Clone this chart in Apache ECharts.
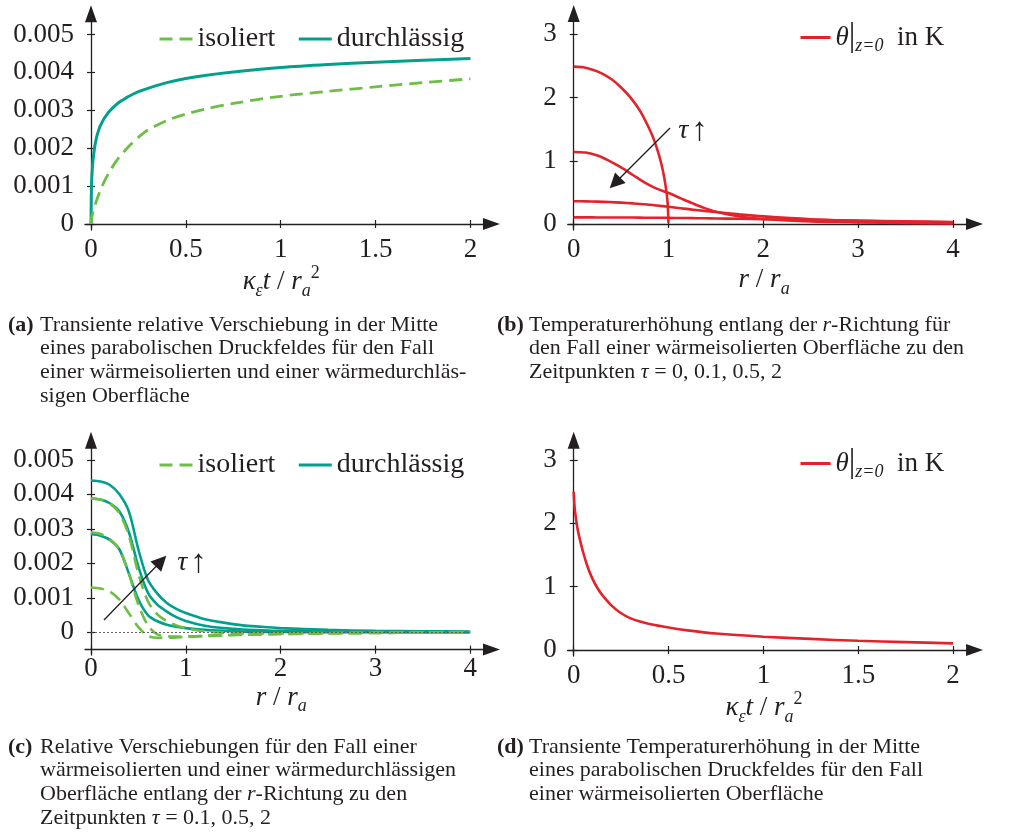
<!DOCTYPE html>
<html><head><meta charset="utf-8">
<script src="https://cdn.jsdelivr.net/npm/echarts@6/dist/echarts.min.js"></script>
<style>html,body{margin:0;padding:0;background:#fff}#c{width:1015px;height:837px}</style>
</head><body><div id="c"></div>
<script>
// ---------- data ----------
// (a) transient relative displacement at centre
const tA_durch = [0, 0.002, 0.005, 0.01, 0.02, 0.03, 0.04, 0.05, 0.06, 0.07, 0.08, 0.09, 0.1, 0.12, 0.14, 0.16, 0.18, 0.2, 0.25, 0.3, 0.4, 0.5, 0.6, 0.75, 1.0, 1.25, 1.5, 1.75, 2.0];
const dispA_durch = [0, 0.0009, 0.0013, 0.00165, 0.00205, 0.0023, 0.00247, 0.0026, 0.0027, 0.00279, 0.00286, 0.00293, 0.00299, 0.00309, 0.00318, 0.00325, 0.00331, 0.00337, 0.00349, 0.00358, 0.00373, 0.00384, 0.00392, 0.00401, 0.00413, 0.00421, 0.00427, 0.00432, 0.00437];
const tA_iso = [0, 0.002, 0.005, 0.01, 0.02, 0.035, 0.05, 0.075, 0.1, 0.125, 0.15, 0.2, 0.25, 0.3, 0.4, 0.5, 0.6, 0.75, 1.0, 1.25, 1.5, 1.75, 2.0];
const dispA_iso = [0, 0.00013, 0.0002, 0.0003, 0.00048, 0.0007, 0.0009, 0.00117, 0.0014, 0.0016, 0.00177, 0.00205, 0.00229, 0.00248, 0.00273, 0.0029, 0.00303, 0.00318, 0.00337, 0.0035, 0.00362, 0.00373, 0.00383];
// (b) temperature along r
const rB0 = [0, 0.1, 0.2, 0.3, 0.4, 0.5, 0.6, 0.7, 0.8, 0.85, 0.9, 0.94, 0.97, 0.99, 1.0];
const thetaB_tau0 = [2.49, 2.48, 2.44, 2.38, 2.29, 2.16, 2.0, 1.79, 1.5, 1.32, 1.09, 0.85, 0.6, 0.35, 0.02];
const rB = [0, 0.125, 0.25, 0.375, 0.5, 0.625, 0.75, 0.875, 1.0, 1.125, 1.25, 1.375, 1.5, 1.75, 2.0, 2.5, 3.0, 3.5, 4.0];
const thetaB_tau01 = [1.14, 1.13, 1.085, 1.0, 0.895, 0.775, 0.655, 0.56, 0.49, 0.41, 0.33, 0.255, 0.195, 0.12, 0.08, 0.04, 0.025, 0.015, 0.01];
const thetaB_tau05 = [0.36, 0.358, 0.354, 0.347, 0.338, 0.326, 0.312, 0.293, 0.272, 0.25, 0.228, 0.208, 0.19, 0.152, 0.12, 0.075, 0.05, 0.035, 0.025];
const thetaB_tau2 = [0.105, 0.105, 0.104, 0.104, 0.103, 0.102, 0.1, 0.099, 0.097, 0.095, 0.093, 0.09, 0.088, 0.082, 0.076, 0.065, 0.053, 0.042, 0.032];
// (c) displacements along r
const rC = [0, 0.1, 0.2, 0.3, 0.4, 0.5, 0.6, 0.7, 0.8, 0.9, 1.0, 1.2, 1.4, 1.6, 1.8, 2.0, 2.5, 3.0, 3.5, 4.0];
const dispC_durch_tau01 = [0.00284, 0.0028, 0.00268, 0.0024, 0.0017, 0.00095, 0.0005, 0.00032, 0.00022, 0.00016, 0.00012, 0.00007, 0.00004, 0.00002, 0.00001, 0.00001, 0, 0, 0, 0];
const dispC_durch_tau05 = [0.00388, 0.00385, 0.00374, 0.0035, 0.0029, 0.0019, 0.00115, 0.0008, 0.0006, 0.00044, 0.00033, 0.00019, 0.00012, 0.00008, 0.00006, 0.00004, 0.00002, 0.00001, 0.000005, 0];
const dispC_durch_tau2 = [0.0044, 0.00437, 0.00427, 0.004, 0.0035, 0.0024, 0.00152, 0.00112, 0.00085, 0.00068, 0.00056, 0.00038, 0.00028, 0.0002, 0.00016, 0.00012, 0.00007, 0.00004, 0.00003, 0.00002];
const dispC_iso_tau01 = [0.0013, 0.00127, 0.00118, 0.00095, 0.00055, 0.00015, -0.0001, -0.00016, -0.00016, -0.00015, -0.00014, -0.00011, -0.00009, -0.00007, -0.00006, -0.00005, -0.00003, -0.00002, -0.00001, 0];
const dispC_iso_tau05 = [0.0029, 0.00285, 0.0027, 0.0024, 0.0017, 0.0008, 0.0002, -0.00006, -0.00011, -0.00012, -0.00012, -0.0001, -0.00008, -0.00007, -0.00006, -0.00005, -0.00003, -0.00002, -0.00001, 0];
const dispC_iso_tau2 = [0.00388, 0.00385, 0.00373, 0.00345, 0.0028, 0.0017, 0.0009, 0.00052, 0.00032, 0.0002, 0.00012, 0.00003, -0.00001, -0.00003, -0.00003, -0.00003, -0.00002, -0.00001, 0, 0];
// (d) transient temperature at centre
const tD = [0, 0.005, 0.01, 0.02, 0.03, 0.05, 0.075, 0.1, 0.125, 0.15, 0.2, 0.25, 0.3, 0.35, 0.4, 0.5, 0.6, 0.75, 1.0, 1.25, 1.5, 1.75, 2.0];
const thetaD = [2.5, 2.25, 2.12, 1.92, 1.78, 1.54, 1.3, 1.12, 0.98, 0.87, 0.7, 0.58, 0.5, 0.45, 0.41, 0.355, 0.31, 0.26, 0.21, 0.175, 0.145, 0.125, 0.105];
// ticks
const ticksDisp = [0, 0.001, 0.002, 0.003, 0.004, 0.005];
const ticksTime = [0, 0.5, 1, 1.5, 2];
const ticksR = [0, 1, 2, 3, 4];
const ticksTheta = [0, 1, 2, 3];
// annotation arrows (data space): [start, arrow-head centre], label position
const annB = {from: [1.016, 1.52], to: [0.436, 0.649], label: [1.258, 1.47]};
const annC = {from: [0.137, 0.000357], to: [0.739, 0.00206], label: [1.065, 0.00201]};
const legendNames = ['isoliert', 'durchlässig'];
const thetaName = 'θ';
const captions = {
  a: ['Transiente relative Verschiebung in der Mitte', 'eines parabolischen Druckfeldes für den Fall', 'einer wärmeisolierten und einer wärmedurchläs-', 'sigen Oberfläche'],
  b: ['Temperaturerhöhung entlang der {it|r}-Richtung für', 'den Fall einer wärmeisolierten Oberfläche zu den', 'Zeitpunkten {it|τ} = 0, 0.1, 0.5, 2'],
  c: ['Relative Verschiebungen für den Fall einer', 'wärmeisolierten und einer wärmedurchlässigen', 'Oberfläche entlang der {it|r}-Richtung zu den', 'Zeitpunkten {it|τ} = 0.1, 0.5, 2'],
  d: ['Transiente Temperaturerhöhung in der Mitte', 'eines parabolischen Druckfeldes für den Fall', 'einer wärmeisolierten Oberfläche']
};

// ---------- styling ----------
const AX = '#231f20';
const TEAL = '#00a08c';
const GREEN = '#6dbe45';
const RED = '#e3232b';
const FONT = "'Liberation Serif', 'DejaVu Serif', serif";
const zip = (xs, ys) => xs.map((x, i) => [x, ys[i]]);

const grids = [], xAxes = [], yAxes = [], series = [], legends = [], titles = [];

const nameRich = {
  i: {fontFamily: FONT, fontSize: 27, fontStyle: 'italic', color: AX, lineHeight: 36},
  n: {fontFamily: FONT, fontSize: 27, color: AX, lineHeight: 36},
  sub: {fontFamily: FONT, fontSize: 18, fontStyle: 'italic', color: AX, lineHeight: 22, verticalAlign: 'bottom'},
  sup: {fontFamily: FONT, fontSize: 18, color: AX, lineHeight: 24, verticalAlign: 'top'},
  bar: {fontFamily: FONT, fontSize: 33, color: AX, lineHeight: 36}
};
const NAME_T = '{i|κ}{sub|ε}{i|t}{n| / }{i|r}{sub|a}{sup|2}';
const NAME_R = '{i|r}{n| / }{i|r}{sub|a}';

function panel(p) {
  const gi = grids.length, xi = xAxes.length, yi = yAxes.length;
  grids.push({left: p.x0 + p.xmin * p.sx, top: p.y0 - p.ymax * p.sy,
    width: (p.xmax - p.xmin) * p.sx, height: (p.ymax - p.ymin) * p.sy, outerBoundsMode: 'none'});
  const tickStyle = {color: AX, width: 1.2};
  const base = {type: 'value', gridIndex: gi, splitLine: {show: false}};
  const xLine = {onZero: p.xOnZero, onZeroAxisIndex: yi};
  xAxes.push(Object.assign({}, base, {
    position: 'bottom', min: p.xmin, max: p.xmax, offset: p.xOffset || 0,
    axisLine: Object.assign({show: true, symbol: ['none', 'triangle'], symbolSize: [12, 17], lineStyle: {color: AX, width: 1.3}}, xLine),
    axisTick: {show: true, customValues: p.xticks, length: 4, lineStyle: tickStyle},
    axisLabel: {show: true, customValues: p.xticks, formatter: p.xfmt, margin: 6, fontFamily: FONT, fontSize: 27, color: AX},
    name: p.xname, nameLocation: 'middle', nameGap: p.nameGap,
    nameTextStyle: {rich: nameRich, padding: [0, 14, 0, 0]}
  }));
  xAxes.push(Object.assign({}, base, {
    position: 'bottom', min: p.xmin, max: p.xmax, offset: p.xOffset || 0,
    axisLine: Object.assign({show: false}, xLine),
    axisTick: {show: true, inside: true, customValues: p.xticks, length: 4, lineStyle: tickStyle},
    axisLabel: {show: false}
  }));
  const yLine = {onZero: true, onZeroAxisIndex: xi};
  yAxes.push(Object.assign({}, base, {
    position: 'left', min: p.ymin, max: p.ymax,
    axisLine: Object.assign({show: true, symbol: ['none', 'triangle'], symbolSize: [12, 17], lineStyle: {color: AX, width: 1.3}}, yLine),
    axisTick: {show: true, customValues: p.yticks, length: 4, lineStyle: tickStyle},
    axisLabel: {show: true, customValues: p.yticks, formatter: p.yfmt, margin: 11, fontFamily: FONT, fontSize: 27, color: AX}
  }));
  yAxes.push(Object.assign({}, base, {
    position: 'left', min: p.ymin, max: p.ymax,
    axisLine: Object.assign({show: false}, yLine),
    axisTick: {show: true, inside: true, customValues: p.yticks, length: 4, lineStyle: tickStyle},
    axisLabel: {show: false}
  }));
  return {xi, yi};
}

function line(ax, name, data, color, width, dashed, extra) {
  const s = {type: 'line', name, xAxisIndex: ax.xi, yAxisIndex: ax.yi, data,
    symbol: 'none', showSymbol: false, smooth: 0.3, silent: true,
    lineStyle: {color, width, type: dashed ? [13, 7] : 'solid', cap: 'butt'},
    itemStyle: {color}, emphasis: {disabled: true}};
  return Object.assign(s, extra || {});
}

function annotation(ann) {
  return {
    markLine: {silent: true, symbol: ['none', 'triangle'], symbolSize: 15,
      lineStyle: {color: AX, width: 1.3, type: 'solid'}, itemStyle: {color: AX},
      label: {show: false}, emphasis: {disabled: true},
      data: [[{coord: ann.from}, {coord: ann.to}]]},
    markPoint: {silent: true, symbol: 'circle', symbolSize: 0,
      label: {show: true, position: 'inside', formatter: '{i|τ} {n|↑}', rich: {
        i: {fontFamily: FONT, fontSize: 28, fontStyle: 'italic', color: AX},
        n: {fontFamily: FONT, fontSize: 33, color: AX}}},
      data: [{coord: ann.label}]}
  };
}

const fmtDisp = v => (v === 0 ? '0' : v.toFixed(3));
const fmtNum = v => String(v);

// panel a
const A = panel({x0: 91, y0: 224, sx: 189.7, sy: 37900, xmin: -0.032, xmax: 2.111, ymin: -0.00016, ymax: 0.00555,
  xOnZero: true, xticks: ticksTime, yticks: ticksDisp, xfmt: fmtNum, yfmt: fmtDisp, xname: NAME_T, nameGap: 29});
series.push(line(A, legendNames[1], zip(tA_durch, dispA_durch), TEAL, 3, false, {smooth: 0.25}));
series.push(line(A, legendNames[0], zip(tA_iso, dispA_iso), GREEN, 2.8, true));

// panel b
const B = panel({x0: 573.7, y0: 224, sx: 94.8, sy: 63.2, xmin: -0.063, xmax: 4.228, ymin: -0.095, ymax: 3.33,
  xOnZero: true, xticks: ticksR, yticks: ticksTheta, xfmt: fmtNum, yfmt: fmtNum, xname: NAME_R, nameGap: 32});
series.push(line(B, thetaName, zip(rB0, thetaB_tau0), RED, 2.6, false, {smooth: 0.2}));
series.push(line(B, thetaName, zip(rB, thetaB_tau01), RED, 2.6, false));
series.push(line(B, thetaName, zip(rB, thetaB_tau05), RED, 2.6, false));
series.push(line(B, thetaName, zip(rB, thetaB_tau2), RED, 2.6, false, annotation(annB)));

// panel c
const C = panel({x0: 91, y0: 632.3, sx: 94.8, sy: 34500, xmin: -0.063, xmax: 4.225, ymin: -0.00066, ymax: 0.00557,
  xOnZero: false, xOffset: -5.5, xticks: ticksR, yticks: ticksDisp, xfmt: fmtNum, yfmt: fmtDisp, xname: NAME_R, nameGap: 30});
series.push(line(C, legendNames[1], zip(rC, dispC_durch_tau01), TEAL, 2.6, false, {
  markLine: {silent: true, symbol: 'none', label: {show: false}, emphasis: {disabled: true},
    lineStyle: {color: '#555', width: 0.9, type: [2, 2]}, data: [[{coord: [0, 0]}, {coord: [4, 0]}]]}}));
series.push(line(C, legendNames[1], zip(rC, dispC_durch_tau05), TEAL, 2.6, false));
series.push(line(C, legendNames[1], zip(rC, dispC_durch_tau2), TEAL, 2.6, false));
series.push(line(C, legendNames[0], zip(rC, dispC_iso_tau01), GREEN, 2.6, true));
series.push(line(C, legendNames[0], zip(rC, dispC_iso_tau05), GREEN, 2.6, true));
series.push(line(C, legendNames[0], zip(rC, dispC_iso_tau2), GREEN, 2.6, true, annotation(annC)));

// panel d
const D = panel({x0: 573.7, y0: 650, sx: 189.7, sy: 63.3, xmin: -0.032, xmax: 2.113, ymin: -0.095, ymax: 3.314,
  xOnZero: true, xticks: ticksTime, yticks: ticksTheta, xfmt: fmtNum, yfmt: fmtNum, xname: NAME_T, nameGap: 29});
series.push(line(D, thetaName, zip(tD, thetaD), RED, 2.6, false));

// legends
const legText = {fontFamily: FONT, fontSize: 28, color: AX};
const noSymbol = {opacity: 0, borderWidth: 0};
[[153, 20], [153, 446]].forEach(([l, t]) => legends.push({
  left: l, top: t, orient: 'horizontal', itemWidth: 33, itemHeight: 14, itemGap: 22,
  itemStyle: noSymbol, lineStyle: {width: 3},
  data: legendNames, textStyle: legText, selectedMode: false}));
[[794, 16], [794, 442]].forEach(([l, t]) => legends.push({
  left: l, top: t, orient: 'horizontal', itemWidth: 30, itemHeight: 14,
  itemStyle: noSymbol, lineStyle: {width: 3},
  data: [thetaName], selectedMode: false,
  formatter: () => '{i|θ}{bar||}{sub|z=0}{n|  in K}',
  textStyle: {fontFamily: FONT, fontSize: 27, color: AX, rich: nameRich}}));

// captions
const capStyle = {fontFamily: FONT, fontSize: 22, fontWeight: 'normal', color: AX, lineHeight: 23.7,
  rich: {it: {fontFamily: FONT, fontSize: 22, fontStyle: 'italic', color: AX, lineHeight: 23.7}}};
[['a', 8, 313], ['b', 497, 313], ['c', 8, 735], ['d', 497, 735]].forEach(([k, l, t]) => {
  titles.push({left: l, top: t, padding: 0, text: '(' + k + ')',
    textStyle: Object.assign({}, capStyle, {fontWeight: 'bold'})});
  titles.push({left: l + 32, top: t, padding: 0, text: captions[k].join('\n'), textStyle: capStyle});
});

const chart = echarts.init(document.getElementById('c'), null, {renderer: 'canvas'});
chart.setOption({animation: false, backgroundColor: '#fff', textStyle: {fontFamily: FONT},
  grid: grids, xAxis: xAxes, yAxis: yAxes, series, legend: legends, title: titles, tooltip: {show: false}});
</script></body></html>
